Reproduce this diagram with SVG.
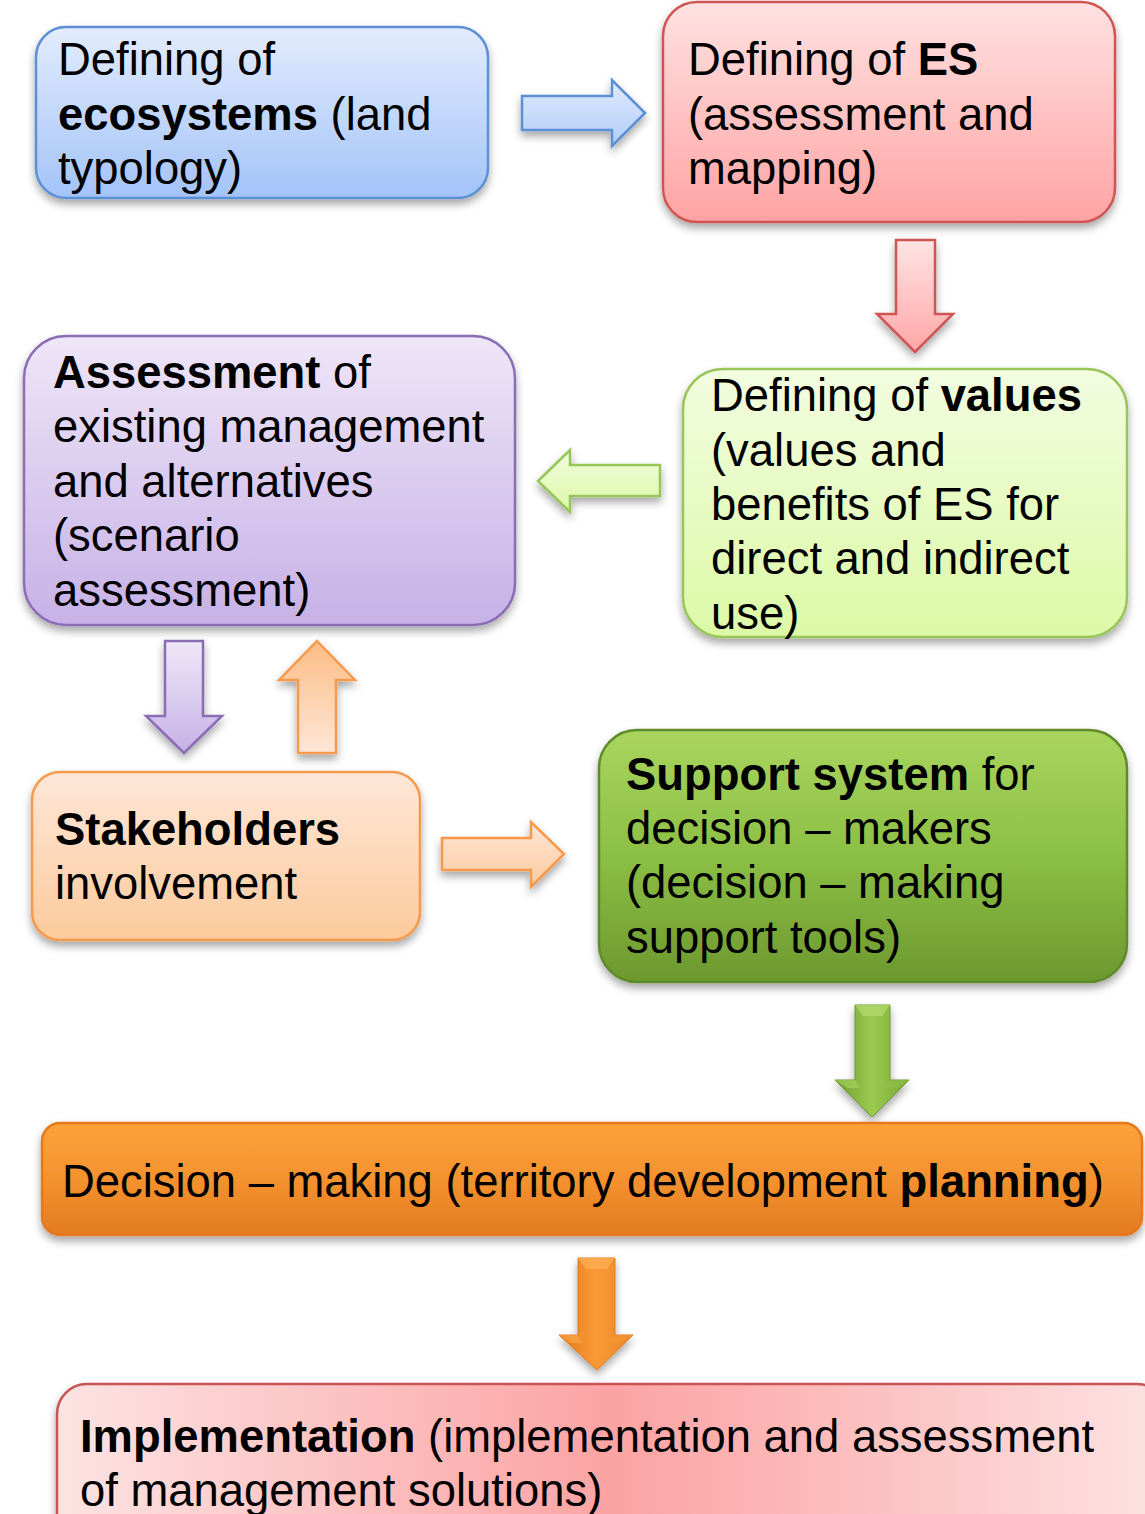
<svg xmlns="http://www.w3.org/2000/svg" width="1145" height="1514" viewBox="0 0 1145 1514">
<defs>
<style>
text{font-family:"Liberation Sans",Arial,sans-serif;font-size:45.4px;fill:#000}
.b{font-weight:bold}
.box{stroke-width:2.5}
.arr{stroke-width:2.5;stroke-linejoin:miter}
</style>
<filter id="sh" x="-10%" y="-10%" width="120%" height="130%">
<feDropShadow dx="0" dy="5" stdDeviation="4" flood-color="#000" flood-opacity="0.35"/>
</filter>
<linearGradient id="gBlue" x1="0" y1="0" x2="0" y2="1"><stop offset="0" stop-color="#e3ecfd"/><stop offset="1" stop-color="#a3c3f8"/></linearGradient>
<linearGradient id="gRed" x1="0" y1="0" x2="0" y2="1"><stop offset="0" stop-color="#ffe2e2"/><stop offset="1" stop-color="#ffa3a3"/></linearGradient>
<linearGradient id="gLime" x1="0" y1="0" x2="0" y2="1"><stop offset="0" stop-color="#f2fde0"/><stop offset="1" stop-color="#dcf9a6"/></linearGradient>
<linearGradient id="gPurple" x1="0" y1="0" x2="0" y2="1"><stop offset="0" stop-color="#eee6f8"/><stop offset="1" stop-color="#c7b1e6"/></linearGradient>
<linearGradient id="gPeach" x1="0" y1="0" x2="0" y2="1"><stop offset="0" stop-color="#fee7d8"/><stop offset="1" stop-color="#fcca9c"/></linearGradient>
<linearGradient id="gPeachUp" x1="0" y1="1" x2="0" y2="0"><stop offset="0" stop-color="#fee7d8"/><stop offset="1" stop-color="#fcbc84"/></linearGradient>
<linearGradient id="gGreen" x1="0" y1="0" x2="0" y2="1"><stop offset="0" stop-color="#a9d55e"/><stop offset="0.5" stop-color="#8cbf45"/><stop offset="1" stop-color="#6c982e"/></linearGradient>
<linearGradient id="gOrange" x1="0" y1="0" x2="0" y2="1"><stop offset="0" stop-color="#fda23a"/><stop offset="0.5" stop-color="#f4922e"/><stop offset="1" stop-color="#e27a22"/></linearGradient>
<linearGradient id="gImpl" x1="0" y1="0" x2="1" y2="0"><stop offset="0" stop-color="#fde3e3"/><stop offset="0.5" stop-color="#fca3a3"/><stop offset="1" stop-color="#fde3e3"/></linearGradient>
<linearGradient id="aBlue" x1="0" y1="0" x2="0" y2="1"><stop offset="0" stop-color="#e0ebfd"/><stop offset="1" stop-color="#b0cdf8"/></linearGradient>
<linearGradient id="aRed" x1="0" y1="0" x2="0" y2="1"><stop offset="0" stop-color="#ffe4e4"/><stop offset="1" stop-color="#ffa6a6"/></linearGradient>
<linearGradient id="aLime" x1="0" y1="0" x2="0" y2="1"><stop offset="0" stop-color="#f0fcdc"/><stop offset="1" stop-color="#dcf8a8"/></linearGradient>
<linearGradient id="aPurple" x1="0" y1="0" x2="0" y2="1"><stop offset="0" stop-color="#efe8f8"/><stop offset="1" stop-color="#c6b0e5"/></linearGradient>
<linearGradient id="aGreen" x1="0" y1="0" x2="1" y2="0"><stop offset="0" stop-color="#6f9c2f"/><stop offset="0.5" stop-color="#9acb4f"/><stop offset="1" stop-color="#79a835"/></linearGradient>
<linearGradient id="aOrange" x1="0" y1="0" x2="1" y2="0"><stop offset="0" stop-color="#e27a1f"/><stop offset="0.5" stop-color="#fa9a35"/><stop offset="1" stop-color="#e88527"/></linearGradient>
</defs>
<rect width="1145" height="1514" fill="#fff"/>

<g id="connectors">
<polygon class="arr" filter="url(#sh)" fill="url(#aBlue)" stroke="#5b8fd4" points="522,96 612,96 612,80 645,113 612,146 612,130 522,130"/>
<polygon class="arr" filter="url(#sh)" fill="url(#aRed)" stroke="#cf5555" points="896,240 935,240 935,314 953,314 915,352 877,314 896,314"/>
<polygon class="arr" filter="url(#sh)" fill="url(#aLime)" stroke="#98c55a" points="660,465 570,465 570,450 538,481 570,512 570,496 660,496"/>
<polygon class="arr" filter="url(#sh)" fill="url(#aPurple)" stroke="#8a6db5" points="165,641 203,641 203,716 222,716 184,753 146,716 165,716"/>
<polygon class="arr" filter="url(#sh)" fill="url(#gPeachUp)" stroke="#f59a4e" points="317,641 355,680 336,680 336,753 298,753 298,680 279,680"/>
<polygon class="arr" filter="url(#sh)" fill="url(#gPeach)" stroke="#f59a4e" points="442,838 531,838 531,822 564,854 531,887 531,870 442,870"/>
<g filter="url(#sh)">
<polygon fill="url(#aGreen)" stroke="#6a9a30" stroke-width="1" points="855,1005 890,1005 890,1080 909,1080 872,1117 835,1080 855,1080"/>
<polygon fill="#b4dc70" opacity="0.7" points="855,1005 890,1005 882,1016 863,1016"/>
<polygon fill="#a8d462" opacity="0.6" points="835,1080 855,1080 860,1088 847,1088"/>
<polygon fill="#8fc04a" opacity="0.6" points="890,1080 909,1080 897,1088 884,1088"/>
</g>
<g filter="url(#sh)">
<polygon fill="url(#aOrange)" stroke="#e07a1e" stroke-width="1" points="578,1258 615,1258 615,1335 633,1335 597,1370 559,1335 578,1335"/>
<polygon fill="#fdb058" opacity="0.7" points="578,1258 615,1258 607,1269 586,1269"/>
<polygon fill="#fcaa4a" opacity="0.6" points="559,1335 578,1335 583,1343 571,1343"/>
<polygon fill="#f59635" opacity="0.6" points="615,1335 633,1335 621,1343 609,1343"/>
</g>
</g>

<g id="node-ecosystems">
<rect class="box" filter="url(#sh)" x="36" y="27" width="452" height="171" rx="30" fill="url(#gBlue)" stroke="#5b8fd4"/>
<text x="58" y="75">Defining of</text>
<text x="58" y="130"><tspan class="b">ecosystems</tspan> (land</text>
<text x="58" y="184">typology)</text>
</g>

<g id="node-es">
<rect class="box" filter="url(#sh)" x="663" y="2" width="452" height="220" rx="34" fill="url(#gRed)" stroke="#cf5555"/>
<text x="688" y="75">Defining of <tspan class="b">ES</tspan></text>
<text x="688" y="130">(assessment and</text>
<text x="688" y="184">mapping)</text>
</g>

<g id="node-values">
<rect class="box" filter="url(#sh)" x="683" y="369" width="444" height="268" rx="40" fill="url(#gLime)" stroke="#98c55a"/>
<text x="711" y="411">Defining of <tspan class="b">values</tspan></text>
<text x="711" y="466">(values and</text>
<text x="711" y="520">benefits of ES for</text>
<text x="711" y="574">direct and indirect</text>
<text x="711" y="629">use)</text>
</g>

<g id="node-assessment">
<rect class="box" filter="url(#sh)" x="24" y="336" width="491" height="289" rx="42" fill="url(#gPurple)" stroke="#8a6db5"/>
<text x="53" y="388"><tspan class="b">Assessment</tspan> of</text>
<text x="53" y="442">existing management</text>
<text x="53" y="497">and alternatives</text>
<text x="53" y="551">(scenario</text>
<text x="53" y="606">assessment)</text>
</g>

<g id="node-stakeholders">
<rect class="box" filter="url(#sh)" x="32" y="772" width="388" height="168" rx="28" fill="url(#gPeach)" stroke="#f59a4e"/>
<text x="55" y="845" class="b">Stakeholders</text>
<text x="55" y="899">involvement</text>
</g>

<g id="node-support">
<rect class="box" filter="url(#sh)" x="599" y="730" width="528" height="252" rx="38" fill="url(#gGreen)" stroke="#5f8a2a"/>
<text x="626" y="790"><tspan class="b">Support system</tspan> for</text>
<text x="626" y="844">decision – makers</text>
<text x="626" y="898">(decision – making</text>
<text x="626" y="953">support tools)</text>
</g>

<g id="node-decision">
<rect class="box" filter="url(#sh)" x="42" y="1123" width="1100" height="112" rx="18" fill="url(#gOrange)" stroke="#e3781f"/>
<text x="62" y="1197">Decision – making (territory development <tspan class="b">planning</tspan>)</text>
</g>

<g id="node-implementation">
<rect class="box" filter="url(#sh)" x="57" y="1384" width="1110" height="160" rx="30" fill="url(#gImpl)" stroke="#c85555"/>
<text x="80" y="1452"><tspan class="b">Implementation</tspan> (implementation and assessment</text>
<text x="80" y="1506">of management solutions)</text>
</g>
</svg>
